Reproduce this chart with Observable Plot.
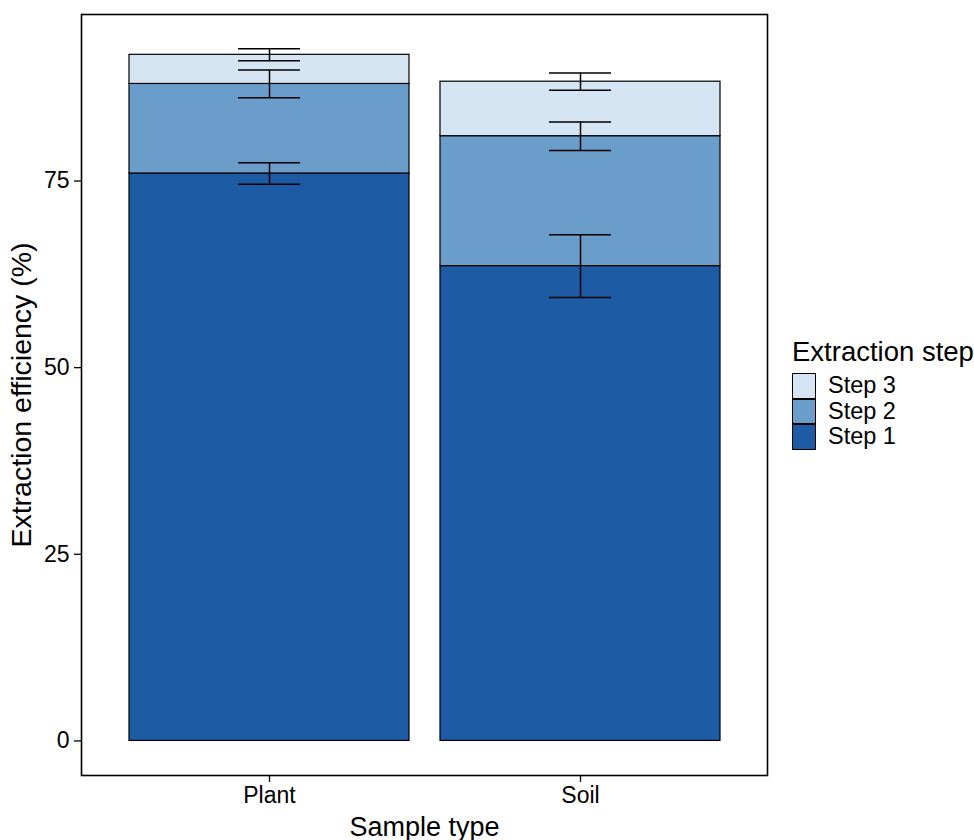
<!DOCTYPE html>
<html>
<head>
<meta charset="utf-8">
<script src="https://cdn.jsdelivr.net/npm/d3@7"></script>
<script src="https://cdn.jsdelivr.net/npm/@observablehq/plot@0.6"></script>
<style>
  html, body { margin: 0; padding: 0; background: #fff; }
  #wrap { position: relative; width: 974px; height: 840px; overflow: hidden; font-family: "Liberation Sans", Arial, Helvetica, sans-serif; }
  #legend { position: absolute; left: 792px; top: 336px; color: #000; }
  #legend .title { font-size: 27.5px; line-height: 32px; margin-bottom: 5px; white-space: nowrap; }
  #legend .item { display: flex; align-items: center; height: 25.5px; }
  #legend .key { width: 24px; height: 25.5px; border: 1px solid #000; box-sizing: border-box; margin-right: 12px; }
  #legend .lab { font-size: 23.5px; }
</style>
</head>
<body>
<div id="wrap"></div>
<script>
// Sample types and extraction steps
const samples = ["Plant", "Soil"];
const steps = ["Step 1", "Step 2", "Step 3"];
const stepColors = ["#1d5ba5", "#6b9dcb", "#d5e4f3"];

// Mean extraction efficiency (%) added by each step, and its error (±)
const plantMeans = [76.0, 12.0, 3.9];
const plantErr = [1.45, 1.85, 0.8];
const soilMeans = [63.6, 17.4, 7.3];
const soilErr = [4.2, 1.9, 1.15];

const yTicks = [0, 25, 50, 75];

// Long-format rows for the stacked bars, plus cumulative error ranges
const rows = [];
const errRows = [];
[[samples[0], plantMeans, plantErr], [samples[1], soilMeans, soilErr]].forEach(([sample, means, errs]) => {
  let cum = 0;
  means.forEach((v, i) => {
    rows.push({sample, step: steps[i], value: v});
    cum += v;
    errRows.push({sample, step: steps[i], lo: cum - errs[i], hi: cum + errs[i]});
  });
});

const fontFamily = '"Liberation Sans", Arial, Helvetica, sans-serif';

const chart = Plot.plot({
  width: 974,
  height: 840,
  marginLeft: 81,
  marginRight: 207,
  marginTop: 14,
  marginBottom: 65,
  style: {fontFamily, fontSize: "23px", color: "#000", background: "#fff", overflow: "hidden"},
  x: {type: "band", domain: samples, paddingInner: 0.1, paddingOuter: 0.15},
  y: {domain: [-4.63, 97.3]},
  color: {domain: steps, range: stepColors},
  marks: [
    Plot.barY(rows, {x: "sample", y: "value", fill: "step", stroke: "#000", strokeWidth: 1.2}),
    Plot.ruleX(errRows, {x: "sample", y1: "lo", y2: "hi", stroke: "#000", strokeWidth: 1.5}),
    Plot.tickY(errRows, {x: "sample", y: "lo", stroke: "#000", strokeWidth: 1.5, insetLeft: 109, insetRight: 109}),
    Plot.tickY(errRows, {x: "sample", y: "hi", stroke: "#000", strokeWidth: 1.5, insetLeft: 109, insetRight: 109}),
    Plot.frame({stroke: "#000", strokeWidth: 1.6}),
    Plot.axisY(yTicks, {tickSize: 7, tickPadding: 5, strokeWidth: 1.3, fontSize: 23, label: "Extraction efficiency (%)", labelAnchor: "center", labelOffset: 71, labelArrow: "none"}),
    Plot.axisX({tickSize: 7, tickPadding: 4, strokeWidth: 1.3, fontSize: 23, label: "Sample type", labelAnchor: "center", labelOffset: 60, labelArrow: "none"})
  ]
});

// Axis titles are a little larger than the tick labels
d3.select(chart).selectAll('[aria-label="y-axis label"]').attr("font-size", 28.5);
d3.select(chart).selectAll('[aria-label="x-axis label"]').attr("font-size", 27);

const wrap = document.getElementById("wrap");
wrap.appendChild(chart);

// Legend: steps listed top to bottom, last step first
const legend = document.createElement("div");
legend.id = "legend";
const title = document.createElement("div");
title.className = "title";
title.textContent = "Extraction step";
legend.appendChild(title);
steps.slice().reverse().forEach(s => {
  const item = document.createElement("div");
  item.className = "item";
  const key = document.createElement("div");
  key.className = "key";
  key.style.background = stepColors[steps.indexOf(s)];
  const lab = document.createElement("span");
  lab.className = "lab";
  lab.textContent = s;
  item.appendChild(key);
  item.appendChild(lab);
  legend.appendChild(item);
});
wrap.appendChild(legend);
</script>
</body>
</html>
